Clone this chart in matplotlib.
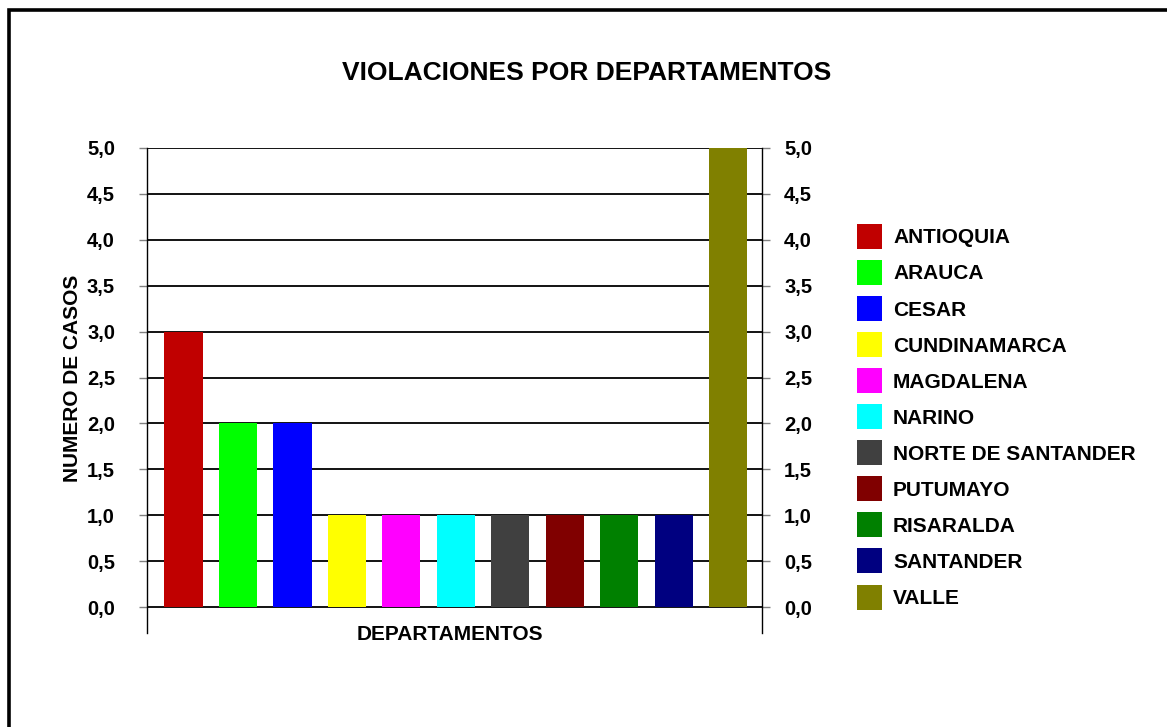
import matplotlib.pyplot as plt
from matplotlib.patches import Rectangle, Patch

# data
departamentos = ['ANTIOQUIA', 'ARAUCA', 'CESAR', 'CUNDINAMARCA', 'MAGDALENA', 'NARINO',
                 'NORTE DE SANTANDER', 'PUTUMAYO', 'RISARALDA', 'SANTANDER', 'VALLE']
casos = [3, 2, 2, 1, 1, 1, 1, 1, 1, 1, 5]
colores = ['#C00000', '#00FF00', '#0000FF', '#FFFF00', '#FF00FF', '#00FFFF',
           '#404040', '#800000', '#008000', '#000080', '#808000']
y_ticks = [0, 0.5, 1, 1.5, 2, 2.5, 3, 3.5, 4, 4.5, 5]
y_tick_labels = ['0,0', '0,5', '1,0', '1,5', '2,0', '2,5', '3,0', '3,5', '4,0', '4,5', '5,0']

plt.rcParams['font.family'] = ['Liberation Sans', 'DejaVu Sans']
plt.rcParams['font.weight'] = 'bold'

fig = plt.figure(figsize=(11.67, 7.27), dpi=100)
ax = fig.add_axes([147 / 1167, 1 - 633 / 727, 615 / 1167, 485 / 727])

x = list(range(len(casos)))
ax.bar(x, casos, width=0.7, color=colores, zorder=3)

ax.set_xlim(-0.67, 10.62)
ax.set_ylim(-0.283, 5)
ax.set_yticks(y_ticks)
ax.set_yticklabels(y_tick_labels, fontsize=14.5, fontweight='bold')
ax.set_xticks([])
ax.yaxis.grid(True, color='black', linewidth=1.3)
ax.set_axisbelow(True)
for s in ['top', 'bottom', 'right']:
    ax.spines[s].set_visible(False)
ax.spines['left'].set_linewidth(1.0)
ax.tick_params(axis='y', color='gray', length=6, width=1, pad=17)

# right-hand axis with the same scale
ax2 = ax.twinx()
ax2.set_ylim(ax.get_ylim())
ax2.set_yticks(y_ticks)
ax2.set_yticklabels(y_tick_labels, fontsize=14.5, fontweight='bold')
for s in ['top', 'bottom', 'left']:
    ax2.spines[s].set_visible(False)
ax2.spines['right'].set_linewidth(1.0)
ax2.tick_params(axis='y', color='gray', length=6, width=1, pad=10)

fig.text(72 / 1167, 1 - 378 / 727, 'NUMERO DE CASOS', fontsize=15, fontweight='bold',
         ha='center', va='center', rotation=90)
fig.text(450 / 1167, 1 - 634 / 727, 'DEPARTAMENTOS', fontsize=15, fontweight='bold',
         ha='center', va='center')
fig.text(587 / 1167, 1 - 73 / 727, 'VIOLACIONES POR DEPARTAMENTOS', fontsize=19,
         fontweight='bold', ha='center', va='center')

handles = [Patch(facecolor=c) for c in colores]
fig.legend(handles, departamentos, loc='upper left', bbox_to_anchor=(857 / 1167, 1 - 224 / 727),
           frameon=False, handlelength=1.2, handleheight=1.47,
           handletextpad=0.53, labelspacing=0.53, borderpad=0, borderaxespad=0,
           prop={'weight': 'bold', 'size': 15})

# figure border (cut off at right and bottom)
fig.add_artist(Rectangle((9 / 1167, -0.1), 1.2, 1.1 - 9.5 / 727, transform=fig.transFigure,
                         fill=False, edgecolor='black', linewidth=2.6))

fig.savefig('out.png', dpi=100)
